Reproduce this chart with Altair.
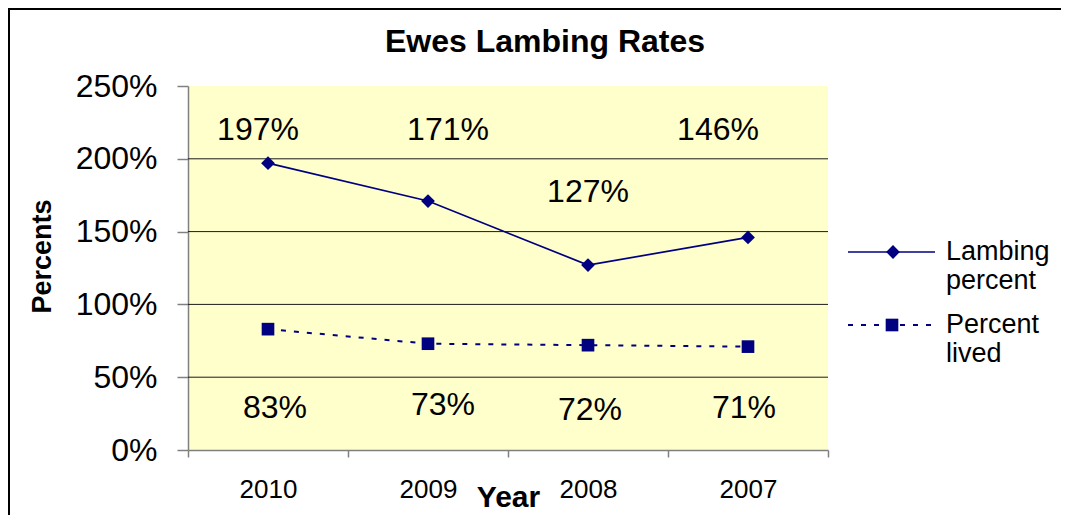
import altair as alt
import pandas as pd

# ---- data ----
years = ["2010", "2009", "2008", "2007"]
lambing = [1.97, 1.71, 1.27, 1.46]
lived = [0.83, 0.73, 0.72, 0.71]
series_names = ["Lambing percent", "Percent lived"]
title_text = "Ewes Lambing Rates"
y_ticks = [0, 0.5, 1.0, 1.5, 2.0, 2.5]
grid_values = [0.5, 1.0, 1.5, 2.0]

# ---- label placement (y in data units, horizontal nudge in px) ----
lamb_label_y = [2.20, 2.20, 1.77, 2.20]
lived_label_y = [0.29, 0.31, 0.275, 0.29]
lamb_label_dx = [-10, 20, 0, -30]
lived_label_dx = [7, 15, 2, -4]

NAVY = "#000080"
FONT = "Liberation Sans"
PLOT_W, PLOT_H = 640, 364
BAND_HALF = PLOT_W / len(years) / 2

df_lamb = pd.DataFrame({"year": years, "value": lambing, "series": series_names[0]})
df_lived = pd.DataFrame({"year": years, "value": lived, "series": series_names[1]})
df_grid = pd.DataFrame({"g": grid_values})

df_labels = pd.DataFrame({
    "year": years + years,
    "ly": lamb_label_y + lived_label_y,
    "dx": [BAND_HALF + d for d in lamb_label_dx + lived_label_dx],
    "text": [f"{round(v * 100)}%" for v in lambing + lived],
})

x_enc = alt.X(
    "year:N",
    sort=years,
    scale=alt.Scale(type="band", paddingInner=0, paddingOuter=0),
    axis=alt.Axis(
        title="Year",
        tickBand="extent",
        tickSize=7,
        labelFontSize=26,
        labelPadding=19,
        labelAngle=0,
        titleFontSize=30,
        titleFontWeight="bold",
        titleBaseline="alphabetic",
        titleY=56,
        grid=False,
    ),
)
y_scale = alt.Scale(domain=[0, 2.5], nice=False, zero=True)
y_enc = alt.Y(
    "value:Q",
    scale=y_scale,
    axis=alt.Axis(
        title="Percents",
        values=y_ticks,
        format="%",
        tickSize=11,
        labelFontSize=32,
        labelPadding=20,
        titleFontSize=27,
        titleFontWeight="bold",
        titleBaseline="alphabetic",
        titleAngle=-90,
        titleX=-138,
        titleY=170,
        grid=False,
    ),
)

grid = alt.Chart(df_grid).mark_rule(color="#1a1a1a", strokeWidth=1).encode(
    y=alt.Y("g:Q", scale=y_scale)
)

lamb_line = alt.Chart(df_lamb).mark_line(color=NAVY, strokeWidth=1.7).encode(x=x_enc, y=y_enc)
lamb_pts = alt.Chart(df_lamb).mark_point(
    shape="diamond", filled=True, size=190, color=NAVY, opacity=1
).encode(x=alt.X("year:N", sort=years), y="value:Q")
lived_line = alt.Chart(df_lived).mark_line(
    color=NAVY, strokeWidth=2, strokeDash=[5, 8]
).encode(x=alt.X("year:N", sort=years), y="value:Q")
lived_pts = alt.Chart(df_lived).mark_point(
    shape="square", filled=True, size=160, color=NAVY, opacity=1
).encode(x=alt.X("year:N", sort=years), y="value:Q")

labels = alt.Chart(df_labels).mark_text(
    font=FONT, fontSize=32, color="black", baseline="middle", align="center"
).encode(
    x=alt.X("year:N", sort=years),
    y=alt.Y("ly:Q"),
    xOffset=alt.XOffset("dx:Q", scale=None),
    text="text:N",
)

one = pd.DataFrame({"k": [0]})

# ---- title ----
title = alt.Chart(one).mark_text(
    text=title_text, font=FONT, fontSize=32, fontWeight="bold", color="black",
    align="center", baseline="alphabetic"
).encode(x=alt.value(357), y=alt.value(-34))

# ---- manual legend ----
leg_line1 = alt.Chart(one).mark_rule(color=NAVY, strokeWidth=1.7).encode(
    x=alt.value(660), x2=alt.value(747), y=alt.value(166))
leg_pt1 = alt.Chart(one).mark_point(shape="diamond", filled=True, size=190, color=NAVY, opacity=1).encode(
    x=alt.value(705), y=alt.value(166))
leg_line2 = alt.Chart(one).mark_rule(color=NAVY, strokeWidth=2, strokeDash=[5, 8]).encode(
    x=alt.value(660), x2=alt.value(747), y=alt.value(239))
leg_pt2 = alt.Chart(one).mark_point(shape="square", filled=True, size=160, color=NAVY, opacity=1).encode(
    x=alt.value(704), y=alt.value(239))
leg_t = []
for txt, yy in [("Lambing", 166), ("percent", 195), ("Percent", 239), ("lived", 268)]:
    leg_t.append(
        alt.Chart(one).mark_text(text=txt, font=FONT, fontSize=27, color="black",
                                 align="left", baseline="middle").encode(
            x=alt.value(758), y=alt.value(yy))
    )

# ---- chart border (top and left edges) ----
border_top = alt.Chart(one).mark_rule(color="black", strokeWidth=2).encode(
    x=alt.value(-180), x2=alt.value(873), y=alt.value(-77))
border_left = alt.Chart(one).mark_rule(color="black", strokeWidth=2).encode(
    x=alt.value(-179), y=alt.value(-78), y2=alt.value(441))

chart = alt.layer(
    grid, lamb_line, lived_line, lamb_pts, lived_pts, labels, title,
    leg_line1, leg_pt1, leg_line2, leg_pt2, *leg_t,
    border_top, border_left,
).properties(
    width=PLOT_W,
    height=PLOT_H,
    autosize=alt.AutoSizeParams(type="none"),
    padding={"left": 180, "top": 78, "right": 233, "bottom": 65},
    background="white",
).configure_view(
    fill="#FFFFCC", stroke=None
).configure_axis(
    labelFont=FONT,
    titleFont=FONT,
    labelColor="black",
    titleColor="black",
    domainColor="#808080",
    tickColor="#808080",
    domainWidth=1.5,
    tickWidth=1.5,
)

chart.save("out.html", embed_options={"renderer": "svg", "actions": False})
